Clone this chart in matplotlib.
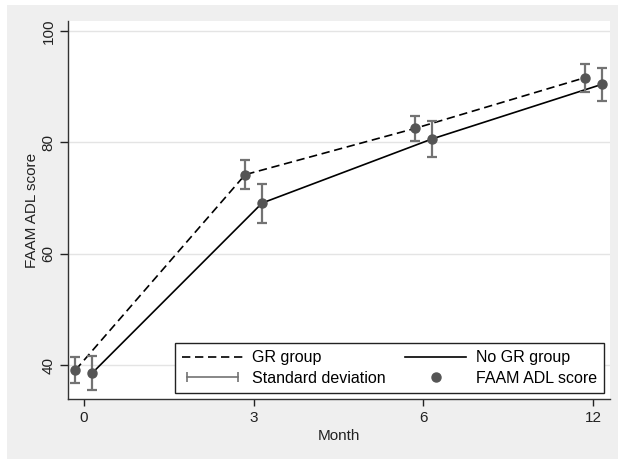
import matplotlib
matplotlib.use('Agg')
import matplotlib.pyplot as plt
from matplotlib.lines import Line2D
from matplotlib.patches import Rectangle
from matplotlib.legend_handler import HandlerLine2D

plt.rcParams['font.family'] = ['Liberation Sans', 'DejaVu Sans']

# months shown as equally spaced categories
months = ['0', '3', '6', '12']
pos = [0, 1, 2, 3]
offset = 0.05

# FAAM ADL score, mean and standard deviation
gr_mean = [39.1, 74.2, 82.5, 91.6]
gr_sd = [2.3, 2.6, 2.3, 2.5]
nogr_mean = [38.6, 69.1, 80.6, 90.4]
nogr_sd = [3.1, 3.5, 3.3, 2.9]

fig = plt.figure(figsize=(6.18, 4.59), dpi=100)
fig.patch.set_facecolor('white')
fig.patches.append(Rectangle((7 / 618, 0), 611 / 618, 454 / 459, transform=fig.transFigure,
                             facecolor='#efefef', edgecolor='none', zorder=-1))

ax = fig.add_axes([68 / 618, 1 - 399 / 459, 542 / 618, 378 / 459])
ax.set_zorder(1)
ax.set_facecolor('white')

x_gr = [p - offset for p in pos]
x_nogr = [p + offset for p in pos]

ax.plot(x_gr, gr_mean, color='black', lw=1.2, dashes=(5, 2.8), zorder=3)
ax.plot(x_nogr, nogr_mean, color='black', lw=1.2, zorder=3)
ax.errorbar(x_gr, gr_mean, yerr=gr_sd, fmt='none', ecolor='#737373', elinewidth=1.6,
            capsize=3.5, capthick=1.6, zorder=4)
ax.errorbar(x_nogr, nogr_mean, yerr=nogr_sd, fmt='none', ecolor='#737373', elinewidth=1.6,
            capsize=3.5, capthick=1.6, zorder=4)
ax.plot(x_gr, gr_mean, 'o', color='#555555', ms=6.5, zorder=5)
ax.plot(x_nogr, nogr_mean, 'o', color='#555555', ms=6.5, zorder=5)

ax.set_xlim(-0.094, 3.1)
ax.set_ylim(33.9, 101.8)
ax.set_xticks(pos)
ax.set_xticklabels(months)
ax.set_yticks([40, 60, 80, 100])
ax.yaxis.grid(True, color='#e4e4e4', lw=1)
ax.set_axisbelow(True)

for s in ['top', 'right']:
    ax.spines[s].set_visible(False)
for s in ['left', 'bottom']:
    ax.spines[s].set_color('#333333')
    ax.spines[s].set_linewidth(1)

ax.tick_params(axis='both', labelsize=11, colors='#222222', length=5, width=1)
ax.tick_params(axis='y', length=6, pad=3)
plt.setp(ax.get_yticklabels(), rotation=90, va='center')

ax.set_xlabel('Month', fontsize=11, color='#222222', labelpad=3)
ax.set_ylabel('FAAM ADL score', fontsize=11, color='#222222', labelpad=2)

h_gr = Line2D([], [], color='black', lw=1.2, dashes=(5, 2.8))
h_sd = Line2D([], [], color='#737373', lw=1.2, marker='|', ms=7, mew=1.2)
h_nogr = Line2D([], [], color='black', lw=1.2)
h_pt = Line2D([], [], ls='none', marker='o', color='#555555', ms=6.5)

leg = ax.legend([h_gr, h_sd, h_nogr, h_pt],
                ['GR group', 'Standard deviation', 'No GR group', 'FAAM ADL score'],
                ncol=2, loc='lower left', bbox_to_anchor=(0.197, 0.016, 0.792, 0.135),
                mode='expand', fontsize=11.5, handlelength=3.8, handletextpad=0.6,
                labelspacing=0.35, borderpad=0.45, borderaxespad=0, fancybox=False,
                framealpha=1, edgecolor='#222222',
                handler_map={h_sd: HandlerLine2D(numpoints=2)})
leg.get_frame().set_linewidth(1)

fig.savefig('out.png', dpi=100)
